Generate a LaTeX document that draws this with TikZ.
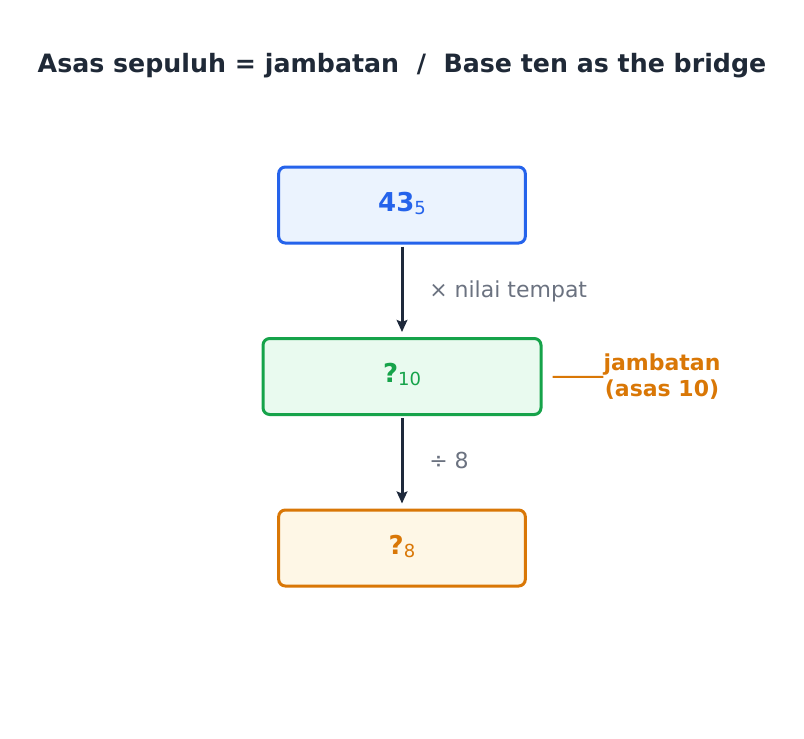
\documentclass[tikz,border=0pt]{standalone}
\usepackage{fontspec}
\setmainfont{DejaVu Sans}
\usetikzlibrary{arrows.meta}
\definecolor{titledark}{HTML}{1F2937}
\definecolor{arrowdark}{HTML}{1E293B}
\definecolor{labelgray}{HTML}{6B7280}
\definecolor{bluebox}{HTML}{2563EB}
\definecolor{bluefill}{HTML}{EBF3FE}
\definecolor{greenbox}{HTML}{16A34A}
\definecolor{greenfill}{HTML}{E9FAEF}
\definecolor{orangebox}{HTML}{D97706}
\definecolor{orangefill}{HTML}{FEF7E6}
\newcommand{\basesub}[1]{\raisebox{-2.25pt}{\fontsize{13.5}{14}\selectfont\mdseries #1}}

\begin{document}
\begin{tikzpicture}[x=0.75pt,y=-0.75pt,
  box/.style={draw, rounded corners=5pt, line width=2.25pt, minimum width=185pt, minimum height=57pt, text height=14.5pt, text depth=5pt, font=\fontsize{19.5}{22}\selectfont\bfseries},
  steparrow/.style={draw=arrowdark, line width=2.25pt, -{Stealth[length=9pt,width=8pt,inset=1.5pt]}, shorten <=1.5pt, shorten >=3.75pt},
  steplabel/.style={anchor=base west, text=labelgray, font=\fontsize{16.5}{20}\selectfont, inner sep=0pt}]
\useasboundingbox (0,0) rectangle (804,739);

\node[anchor=base, text=titledark, font=\fontsize{18.95}{22}\selectfont\bfseries] (title) at (402,72) {Asas sepuluh = jambatan\ \ /\ \ Base ten as the bridge};

\node[box, draw=bluebox, fill=bluefill, text=bluebox] (base5) at (402,205) {43\basesub{5}};
\node[box, draw=greenbox, fill=greenfill, text=greenbox, minimum width=208.5pt] (base10) at (402,376.5) {?\basesub{10}};
\node[box, draw=orangebox, fill=orangefill, text=orangebox] (base8) at (402,548) {?\basesub{8}};

\draw[steparrow] (base5) -- (base10);
\node[steplabel] (mult) at (429,297) {× nilai tempat};
\draw[steparrow] (base10) -- (base8);
\node[steplabel] (div) at (429,468) {÷ 8};

\node[align=center, text=orangebox, font=\fontsize{16.5}{19.5}\selectfont\bfseries, inner sep=0pt] (bridge) at (662,377) {jambatan\\(asas 10)};
\draw[orangebox, line width=1.5pt, shorten <=7.5pt] (base10) -- (bridge);
\end{tikzpicture}
\end{document}
